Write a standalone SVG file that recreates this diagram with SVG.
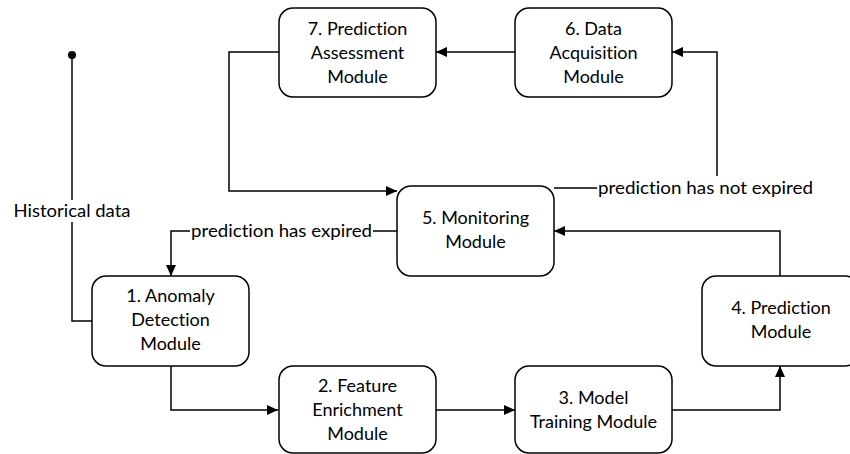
<svg xmlns="http://www.w3.org/2000/svg" width="850" height="454" viewBox="0 0 850 454">
  <style>
    .box { fill: #ffffff; stroke: #000000; stroke-width: 1.5; }
    .lbl { font-family: Lato, "Open Sans", "Liberation Sans", sans-serif; font-size: 18px; fill: #000000; text-anchor: middle; font-variant-ligatures: none; }
    .edge { fill: none; stroke: #000000; stroke-width: 1.5; }
    .bg { fill: #ffffff; }
  </style>
  <defs>
    <marker id="arrow" viewBox="0 0 11 10" refX="11" refY="5" markerWidth="11" markerHeight="10" markerUnits="userSpaceOnUse" orient="auto">
      <path d="M0,0 L11,5 L0,10 Z" fill="#000000"/>
    </marker>
  </defs>
  <rect width="850" height="454" fill="#ffffff"/>

  <!-- connectors -->
  <g id="connectors">
    <!-- historical data feed into the anomaly detector -->
    <circle cx="72" cy="55" r="4" fill="#000000"/>
    <path class="edge" d="M72,55 V321 H92"/>
    <!-- assessment back to monitoring -->
    <path class="edge" d="M279,52 H229 V191 H397" marker-end="url(#arrow)"/>
    <!-- acquisition to assessment -->
    <path class="edge" d="M515,52 H436" marker-end="url(#arrow)"/>
    <!-- monitoring to acquisition -->
    <path class="edge" d="M554,188 H717 V52 H672" marker-end="url(#arrow)"/>
    <!-- monitoring to anomaly detection -->
    <path class="edge" d="M397,231 H171 V276" marker-end="url(#arrow)"/>
    <!-- pipeline -->
    <path class="edge" d="M171,366 V410 H278" marker-end="url(#arrow)"/>
    <path class="edge" d="M436,410 H515" marker-end="url(#arrow)"/>
    <path class="edge" d="M672,410 H780 V366" marker-end="url(#arrow)"/>
    <path class="edge" d="M780,276 V231 H554" marker-end="url(#arrow)"/>

    <!-- edge labels -->
    <rect class="bg" x="12" y="200" width="120" height="22"/>
    <text class="lbl" x="72" y="217" textLength="117" lengthAdjust="spacingAndGlyphs">Historical data</text>
    <rect class="bg" x="190" y="220" width="183" height="22"/>
    <text class="lbl" x="281.5" y="237" textLength="181" lengthAdjust="spacingAndGlyphs">prediction has expired</text>
    <rect class="bg" x="597" y="176" width="217" height="22"/>
    <text class="lbl" x="705.5" y="194" textLength="215" lengthAdjust="spacingAndGlyphs">prediction has not expired</text>
  </g>

  <g id="node1">
    <rect class="box" x="92" y="276" width="157" height="90" rx="14"/>
    <text class="lbl" x="170.5" y="302">1. Anomaly</text>
    <text class="lbl" x="170.5" y="326">Detection</text>
    <text class="lbl" x="170.5" y="350">Module</text>
  </g>
  <g id="node2">
    <rect class="box" x="279" y="366" width="157" height="87" rx="14"/>
    <text class="lbl" x="357.5" y="392">2. Feature</text>
    <text class="lbl" x="357.5" y="416">Enrichment</text>
    <text class="lbl" x="357.5" y="440">Module</text>
  </g>
  <g id="node3">
    <rect class="box" x="515" y="366" width="157" height="87" rx="14"/>
    <text class="lbl" x="593.5" y="404">3. Model</text>
    <text class="lbl" x="593.5" y="428">Training Module</text>
  </g>
  <g id="node4">
    <rect class="box" x="702" y="276" width="157" height="90" rx="14"/>
    <text class="lbl" x="781" y="314">4. Prediction</text>
    <text class="lbl" x="781" y="338">Module</text>
  </g>
  <g id="node5">
    <rect class="box" x="397" y="186" width="157" height="90" rx="14"/>
    <text class="lbl" x="475.5" y="224">5. Monitoring</text>
    <text class="lbl" x="475.5" y="248">Module</text>
  </g>
  <g id="node6">
    <rect class="box" x="515" y="8" width="157" height="89" rx="14"/>
    <text class="lbl" x="593.5" y="35">6. Data</text>
    <text class="lbl" x="593.5" y="59">Acquisition</text>
    <text class="lbl" x="593.5" y="83">Module</text>
  </g>
  <g id="node7">
    <rect class="box" x="279" y="8" width="157" height="89" rx="14"/>
    <text class="lbl" x="357.5" y="35">7. Prediction</text>
    <text class="lbl" x="357.5" y="59">Assessment</text>
    <text class="lbl" x="357.5" y="83">Module</text>
  </g>
</svg>
